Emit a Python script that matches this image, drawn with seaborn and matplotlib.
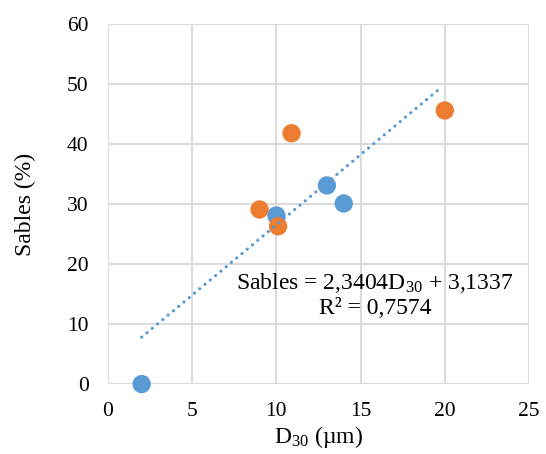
import matplotlib
matplotlib.use("Agg")
import matplotlib.pyplot as plt
import seaborn as sns
import numpy as np
import pandas as pd

# Data
blue_x = [2, 10, 13, 14]
blue_y = [0, 28.1, 33.1, 30.1]
orange_x = [9, 10.1, 10.9, 20]
orange_y = [29.1, 26.3, 41.8, 45.6]
slope = 2.3404
intercept = 3.1337
r2 = 0.7574
x_ticks = [0, 5, 10, 15, 20, 25]
y_ticks = [0, 10, 20, 30, 40, 50, 60]

sns.set_theme(style="white")
plt.rcParams['font.family'] = ['Liberation Serif', 'DejaVu Serif']
plt.rcParams['mathtext.fontset'] = 'custom'
plt.rcParams['mathtext.rm'] = 'Liberation Serif'
plt.rcParams['mathtext.it'] = 'Liberation Serif:italic'
plt.rcParams['mathtext.default'] = 'regular'
plt.rcParams['text.color'] = 'black'
plt.rcParams['axes.labelcolor'] = 'black'

fig = plt.figure(figsize=(5.46, 4.54), dpi=100)
ax = fig.add_axes([0.1978, 0.154, 0.771, 0.793])

grid_c = '#d9d9d9'
for v in x_ticks:
    ax.axvline(v, color=grid_c, lw=1.3, zorder=0)
for v in y_ticks:
    ax.axhline(v, color=grid_c, lw=1.3, zorder=0)

df_b = pd.DataFrame({'x': blue_x, 'y': blue_y})
df_o = pd.DataFrame({'x': orange_x, 'y': orange_y})
sns.scatterplot(data=df_b, x='x', y='y', ax=ax, color='#5B9BD5', s=175,
                edgecolor='none', zorder=3, clip_on=False)
sns.scatterplot(data=df_o, x='x', y='y', ax=ax, color='#ED7D31', s=175,
                edgecolor='none', zorder=3, clip_on=False)

all_x = np.array(blue_x + orange_x)
tx = np.array([all_x.min(), all_x.max() - 0.25])
ty = slope * tx + intercept
sns.lineplot(x=tx, y=ty, ax=ax, color='#5B9BD5', lw=2.3, linestyle=(0, (0.05, 2.1)),
             zorder=4)
ax.lines[-1].set_dash_capstyle('round')

ax.set_xlim(0, 25)
ax.set_ylim(0, 60)
ax.set_xticks(x_ticks)
ax.set_yticks(y_ticks)
ax.tick_params(axis='both', labelsize=15.5, length=0, colors='black')
ax.tick_params(axis='x', pad=13)
ax.tick_params(axis='y', pad=14)
for s in ax.spines.values():
    s.set_visible(False)

ax.set_xlabel('D$_{30}$ (µm)', fontsize=17, labelpad=2)
ax.set_ylabel('Sables (%)', fontsize=17, labelpad=22)

ax.text(15.85, 16.9, 'Sables = 2,3404D$_{30}$ + 3,1337', ha='center', va='center',
        fontsize=17, zorder=5)
ax.text(15.85, 12.6, 'R² = 0,7574', ha='center', va='center', fontsize=17, zorder=5)

fig.savefig('out.png', dpi=100)
